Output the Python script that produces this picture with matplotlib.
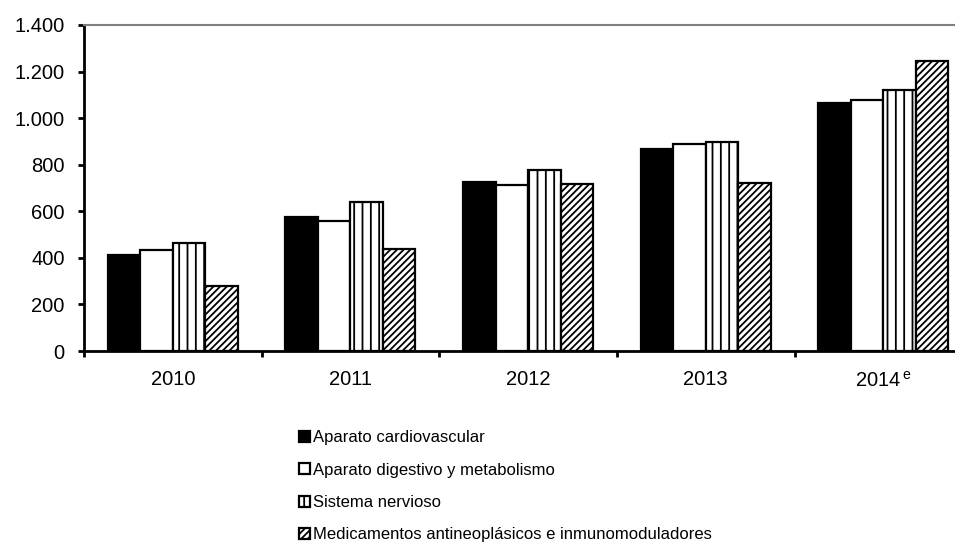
import matplotlib
matplotlib.use("Agg")
import matplotlib.pyplot as plt
import numpy as np

plt.rcParams['font.family'] = ['Liberation Sans', 'DejaVu Sans']
plt.rcParams['mathtext.fontset'] = 'custom'
plt.rcParams['mathtext.rm'] = 'Liberation Sans'
plt.rcParams['hatch.linewidth'] = 1.3

years = ["2010", "2011", "2012", "2013", "2014$^{\\,\\mathrm{e}}$"]
series_names = [
    "Aparato cardiovascular",
    "Aparato digestivo y metabolismo",
    "Sistema nervioso",
    "Medicamentos antineoplásicos e inmunomoduladores",
]
cardiovascular = [412, 574, 727, 868, 1064]
digestivo = [433, 558, 713, 888, 1079]
nervioso = [462, 641, 777, 896, 1120]
antineoplasicos = [278, 440, 716, 720, 1245]
yticks = [0, 200, 400, 600, 800, 1000, 1200, 1400]
ytick_labels = ["0", "200", "400", "600", "800", "1.000", "1.200", "1.400"]

fig = plt.figure(figsize=(9.55, 5.54), dpi=100)
ax = fig.add_axes([0.088, 0.3664, 0.93, 0.5885])

x = np.arange(len(years))
w = 0.183
styles = [
    dict(color="black", edgecolor="black", hatch=None),
    dict(color="white", edgecolor="black", hatch=None),
    dict(color="white", edgecolor="black", hatch="||"),
    dict(color="white", edgecolor="black", hatch="/////"),
]
data = [cardiovascular, digestivo, nervioso, antineoplasicos]
for i, (vals, st, name) in enumerate(zip(data, styles, series_names)):
    ax.bar(x + (i - 1.5) * w, vals, width=w, facecolor=st["color"],
           edgecolor=st["edgecolor"], hatch=st["hatch"], linewidth=1.6,
           label=name)

ax.set_xlim(-0.5, len(years) - 0.5)
ax.set_ylim(0, 1400)
ax.set_yticks(yticks)
ax.set_yticklabels(ytick_labels, fontsize=14.5)
ax.set_xticks(x)
ax.set_xticklabels(years, fontsize=14.5)
ax.set_xticks(np.arange(len(years) + 1) - 0.5, minor=True)
ax.tick_params(axis='x', which='major', length=0, pad=14)
ax.tick_params(axis='x', which='minor', length=4, width=2, direction='out')
ax.tick_params(axis='y', length=4, width=2, direction='out', pad=10)

ax.spines['left'].set_linewidth(2)
ax.spines['bottom'].set_linewidth(2)
ax.spines['top'].set_color('#808080')
ax.spines['top'].set_linewidth(1.5)
ax.spines['right'].set_visible(False)

fig.legend(loc='upper left', bbox_to_anchor=(0.313, 1 - 430 / 554),
           frameon=False, fontsize=12, handlelength=0.65, handleheight=0.65,
           handletextpad=0.2, labelspacing=1.05, borderpad=0, borderaxespad=0)

fig.savefig("out.png", dpi=100)
